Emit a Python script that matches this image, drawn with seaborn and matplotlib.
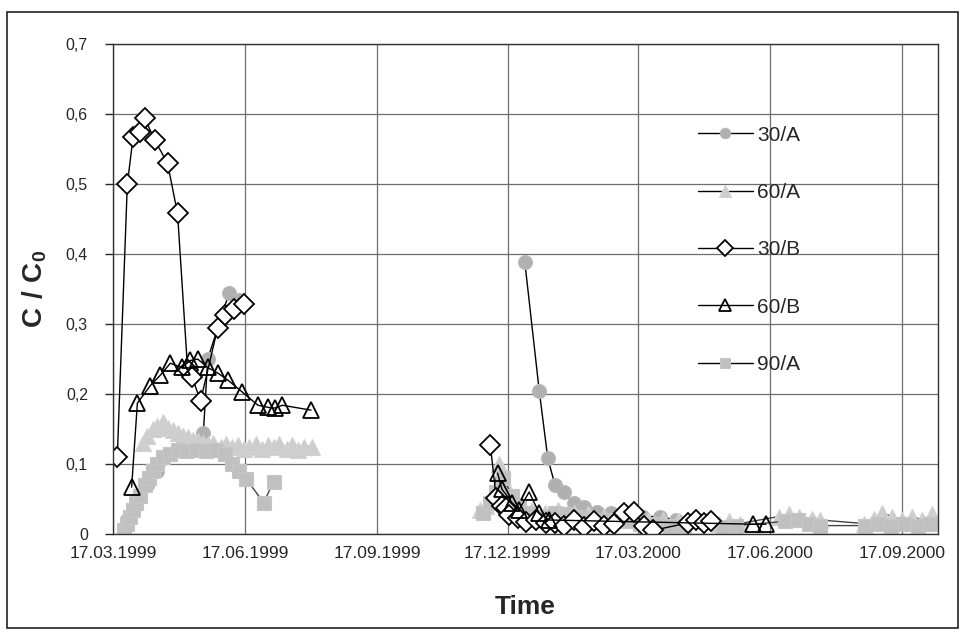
import pandas as pd
import seaborn as sns
import matplotlib.pyplot as plt
import matplotlib.dates as mdates
from matplotlib.lines import Line2D
from matplotlib.patches import Rectangle

# values, None marks a gap between sampling campaigns
a30_dates = ['27.03.1999', '03.04.1999', '10.04.1999', '17.04.1999', '19.05.1999',
             '22.05.1999', '06.06.1999', '13.06.1999', None,
             '29.12.1999', '08.01.2000', '14.01.2000', '19.01.2000', '25.01.2000',
             '01.02.2000', '08.02.2000', '17.02.2000', '27.02.2000', '09.03.2000',
             '20.03.2000', '01.04.2000', '12.04.2000']
a30_vals = [0.02, 0.05, 0.07, 0.09, 0.145, 0.25, 0.345, 0.335, None,
            0.388, 0.205, 0.108, 0.07, 0.06, 0.045, 0.038, 0.032, 0.03, 0.028,
            0.025, 0.025, 0.02]

a60_dates = ['07.04.1999', '10.04.1999', '14.04.1999', '17.04.1999', '21.04.1999',
             '24.04.1999', '28.04.1999', '01.05.1999', '05.05.1999', '08.05.1999',
             '12.05.1999', '15.05.1999', '19.05.1999', '22.05.1999', '26.05.1999',
             '31.05.1999', '04.06.1999', '08.06.1999', '12.06.1999', '16.06.1999',
             '20.06.1999', '25.06.1999', '29.06.1999', '03.07.1999', '07.07.1999',
             '11.07.1999', '16.07.1999', '20.07.1999', '24.07.1999', '28.07.1999',
             '03.08.1999', None,
             '28.11.1999', '02.12.1999', '06.12.1999', '11.12.1999', '16.12.1999',
             '21.12.1999', '27.12.1999', '03.01.2000', '12.01.2000', '21.01.2000',
             '01.02.2000', '11.02.2000', '22.02.2000', '03.03.2000', '14.03.2000',
             '24.03.2000', '03.04.2000', '14.04.2000', '12.05.2000', '19.05.2000',
             '27.05.2000', '23.06.2000', '30.06.2000', '07.07.2000', '16.07.2000',
             '22.07.2000', '21.08.2000', '28.08.2000', '03.09.2000', '10.09.2000',
             '17.09.2000', '24.09.2000', '01.10.2000', '08.10.2000']
a60_vals = [0.13, 0.14, 0.15, 0.155, 0.16, 0.152, 0.148, 0.145, 0.14, 0.138,
            0.135, 0.133, 0.13, 0.128, 0.13, 0.125, 0.128, 0.125, 0.127, 0.122,
            0.125, 0.128, 0.122, 0.127, 0.125, 0.128, 0.122, 0.127, 0.12, 0.125,
            0.125, None,
            0.035, 0.04, 0.05, 0.1, 0.07, 0.05, 0.04, 0.035, 0.03, 0.035,
            0.03, 0.028, 0.025, 0.025, 0.022, 0.02, 0.02, 0.018, 0.015, 0.018,
            0.015, 0.025, 0.028, 0.025, 0.022, 0.02, 0.015, 0.022, 0.03, 0.025,
            0.02, 0.025, 0.02, 0.028]

b30_dates = ['20.03.1999', '27.03.1999', '31.03.1999', '05.04.1999', '08.04.1999',
             '15.04.1999', '24.04.1999', '01.05.1999', '08.05.1999', '11.05.1999',
             '17.05.1999', '29.05.1999', '03.06.1999', '09.06.1999', '16.06.1999', None,
             '05.12.1999', '09.12.1999', '13.12.1999', '16.12.1999', '18.12.1999',
             '24.12.1999', '30.12.1999', '06.01.2000', '13.01.2000', '19.01.2000',
             '25.01.2000', '01.02.2000', '08.02.2000', '15.02.2000', '22.02.2000',
             '29.02.2000', '07.03.2000', '14.03.2000', '21.03.2000', '27.03.2000',
             '21.04.2000', '26.04.2000', '02.05.2000', '07.05.2000']
b30_vals = [0.11, 0.50, 0.567, 0.575, 0.595, 0.563, 0.53, 0.458, 0.235, 0.225,
            0.19, 0.295, 0.313, 0.322, 0.328, None,
            0.127, 0.051, 0.04, 0.037, 0.027, 0.023, 0.017, 0.02, 0.016, 0.016,
            0.012, 0.02, 0.01, 0.018, 0.012, 0.015, 0.03, 0.032, 0.012, 0.005,
            0.016, 0.02, 0.016, 0.018]

b60_dates = ['30.03.1999', '03.04.1999', '12.04.1999', '19.04.1999', '26.04.1999',
             '04.05.1999', '10.05.1999', '15.05.1999', '22.05.1999', '29.05.1999',
             '05.06.1999', '15.06.1999', '26.06.1999', '03.07.1999', '08.07.1999',
             '13.07.1999', '02.08.1999', None,
             '10.12.1999', '13.12.1999', '20.12.1999', '25.12.1999', '01.01.2000',
             '08.01.2000', '15.01.2000', '05.06.2000', '14.06.2000']
b60_vals = [0.067, 0.187, 0.212, 0.227, 0.244, 0.238, 0.248, 0.25, 0.238, 0.23,
            0.22, 0.203, 0.184, 0.181, 0.18, 0.184, 0.177, None,
            0.087, 0.064, 0.045, 0.035, 0.06, 0.03, 0.02, 0.014, 0.014]

a90_dates = ['25.03.1999', '27.03.1999', '29.03.1999', '31.03.1999', '02.04.1999',
             '05.04.1999', '08.04.1999', '11.04.1999', '14.04.1999', '17.04.1999',
             '21.04.1999', '26.04.1999', '01.05.1999', '07.05.1999', '14.05.1999',
             '21.05.1999', '28.05.1999', '03.06.1999', '08.06.1999', '13.06.1999',
             '18.06.1999', '30.06.1999', '07.07.1999', None,
             '30.11.1999', '05.12.1999', '09.12.1999', '14.12.1999', '20.12.1999',
             '25.12.1999', '01.01.2000', '09.01.2000', '19.01.2000', '27.01.2000',
             '06.02.2000', '17.02.2000', '27.02.2000', '09.03.2000', '18.03.2000',
             '30.03.2000', '08.04.2000', '18.04.2000', '15.05.2000', '24.05.2000',
             '27.06.2000', '06.07.2000', '14.07.2000', '22.07.2000', '22.08.2000',
             '31.08.2000', '09.09.2000', '19.09.2000', '28.09.2000', '06.10.2000']
a90_vals = [0.005, 0.015, 0.025, 0.035, 0.045, 0.055, 0.07, 0.08, 0.09, 0.1,
            0.11, 0.115, 0.12, 0.118, 0.12, 0.118, 0.12, 0.115, 0.1, 0.09,
            0.078, 0.045, 0.075, None,
            0.03, 0.045, 0.06, 0.08, 0.055, 0.04, 0.03, 0.025, 0.03, 0.028,
            0.025, 0.02, 0.02, 0.018, 0.015, 0.015, 0.012, 0.012, 0.01, 0.012,
            0.018, 0.02, 0.015, 0.012, 0.012, 0.015, 0.012, 0.015, 0.012, 0.015]

tick_dates = ['17.03.1999', '17.06.1999', '17.09.1999', '17.12.1999',
              '17.03.2000', '17.06.2000', '17.09.2000']
y_ticks = [0, 0.1, 0.2, 0.3, 0.4, 0.5, 0.6, 0.7]
y_labels = ['0', '0,1', '0,2', '0,3', '0,4', '0,5', '0,6', '0,7']


def runs(dates, vals):
    # cut a series into pieces at the None gaps
    pieces, d_cur, v_cur = [], [], []
    for d, v in zip(dates, vals):
        if v is None:
            if d_cur:
                pieces.append((d_cur, v_cur))
            d_cur, v_cur = [], []
        else:
            d_cur.append(d)
            v_cur.append(v)
    if d_cur:
        pieces.append((d_cur, v_cur))
    return pieces


sns.set_style('white')
plt.rcParams['font.family'] = ['Liberation Sans', 'DejaVu Sans']
plt.rcParams['mathtext.fontset'] = 'custom'
plt.rcParams['mathtext.rm'] = 'Liberation Sans'
plt.rcParams['mathtext.bf'] = 'Liberation Sans:bold'

fig = plt.figure(figsize=(9.64, 6.37), dpi=100)
ax = fig.add_axes([0.1172, 0.1617, 0.856, 0.769])

# name, dates, values, marker, size, face, edge, edge width, line colour
series = [
    ('30/A', a30_dates, a30_vals, 'o', 10, '#b0b0b0', '#b8b8b8', 0.8, 'black'),
    ('60/A', a60_dates, a60_vals, '^', 12, '#cdcdcd', '#d2d2d2', 0.8, '#444444'),
    ('90/A', a90_dates, a90_vals, 's', 10, '#c0c0c0', '#c6c6c6', 0.8, '#444444'),
    ('30/B', b30_dates, b30_vals, 'D', 10.5, 'white', 'black', 1.3, 'black'),
    ('60/B', b60_dates, b60_vals, '^', 11, 'none', 'black', 1.3, 'black'),
]

for name, dates, vals, mk, size, face, edge, ew, lc in series:
    for d, v in runs(dates, vals):
        sns.lineplot(x=pd.to_datetime(d, format='%d.%m.%Y'), y=v, ax=ax,
                     color=lc, lw=1, marker=mk, ms=size, mfc=face,
                     mec=edge, mew=ew, sort=False, legend=False)

ax.set_ylim(0, 0.7)
ax.set_xlim(pd.Timestamp('1999-03-17'), pd.Timestamp('2000-10-12'))
ax.set_yticks(y_ticks)
ax.set_yticklabels(y_labels)
ax.set_xticks(pd.to_datetime(tick_dates, format='%d.%m.%Y'))
ax.xaxis.set_major_formatter(mdates.DateFormatter('%d.%m.%Y'))
ax.grid(True, color='#6e6e6e', lw=0.9)
ax.set_axisbelow(True)
for sp in ax.spines.values():
    sp.set_color('#333333')
    sp.set_linewidth(1.0)
ax.tick_params(axis='y', length=6, width=1, pad=12, labelsize=11.5, left=True)
ax.tick_params(axis='x', length=0, pad=9, labelsize=12.5)
ax.set_xlabel('Time', fontsize=19, fontweight='bold', labelpad=24)
ax.set_ylabel(r'$\mathbf{C\ /\ C_0}$', fontsize=20, labelpad=12)

handles = []
for name, dates, vals, mk, size, face, edge, ew, lc in series:
    handles.append(Line2D([], [], color='black', lw=1, marker=mk, ms=size * 0.75,
                          mfc=face, mec=edge, mew=ew))
order = [0, 1, 3, 4, 2]
ax.legend([handles[i] for i in order], [series[i][0] for i in order],
          loc='upper left', bbox_to_anchor=(0.686, 0.872), frameon=False,
          fontsize=15, labelspacing=1.84, handlelength=2.65, handletextpad=0.2)

fig.add_artist(Rectangle((7 / 964, 9 / 637), 951 / 964, 616 / 637,
                         transform=fig.transFigure, fill=False,
                         edgecolor='#222222', lw=1.2))

fig.savefig('out.png', dpi=100, facecolor='white')
